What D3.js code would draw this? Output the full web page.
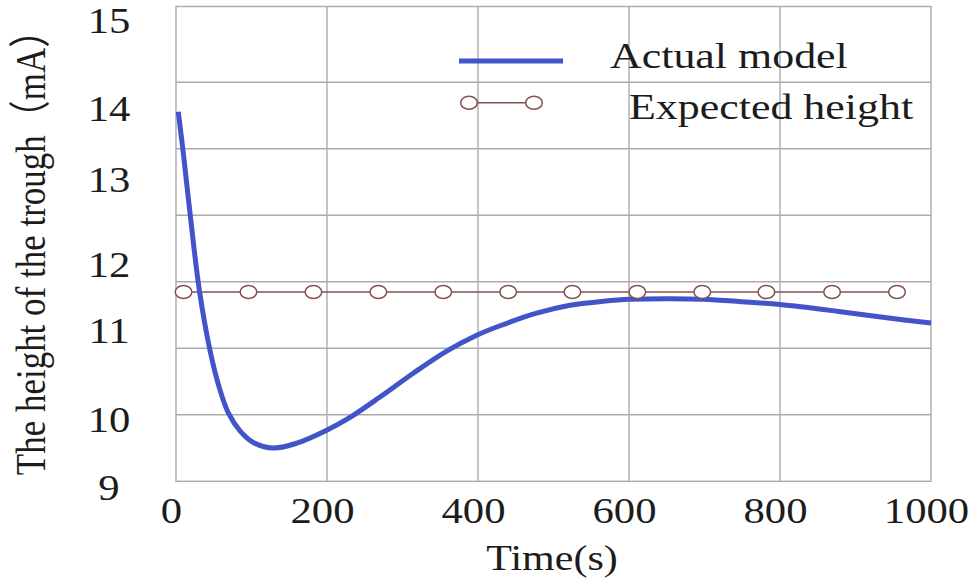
<!DOCTYPE html>
<html>
<head>
<meta charset="utf-8">
<script src="https://cdn.jsdelivr.net/npm/d3@7"></script>
<style>
  html, body { margin: 0; padding: 0; background: #ffffff; }
  svg { display: block; }
  text { font-family: 'Liberation Serif', 'Times New Roman', 'Noto Sans CJK SC', serif; fill: #1c1c1c; }
</style>
</head>
<body>
<svg id="chart" width="973" height="580"></svg>
<script>
// ---- data -------------------------------------------------------------
const xTicks = [0, 200, 400, 600, 800, 1000];          // time (s)
const yTicks = [9, 10, 11, 12, 13, 14, 15];            // trough height (mA)

// Actual model response: time (s) -> trough height (mA)
const modelTime   = [3, 9.7, 19.5, 30.9, 45, 57.2, 69.3, 84.8, 102.4, 128.9, 159.9, 199.6, 230.5, 270.2,
                     314.3, 358.5, 398.3, 429.1, 477.7, 521.9, 566, 601.3, 654.3, 698.4, 742.6, 800, 875.1, 941.3, 1000];
const modelHeight = [13.97, 13.38, 12.54, 11.63, 10.79, 10.37, 10.08, 9.84, 9.67, 9.59, 9.66, 9.85, 10.03, 10.26,
                     10.53, 10.78, 10.96, 11.09, 11.28, 11.40, 11.46, 11.49, 11.50, 11.49, 11.46, 11.41, 11.31, 11.21, 11.13];

// Expected (target) height, sampled as markers
const expectedTime   = [10, 96, 182, 268, 354, 440, 525, 611, 697, 782, 869, 955];
const expectedHeight = [11.6, 11.6, 11.6, 11.6, 11.6, 11.6, 11.6, 11.6, 11.6, 11.6, 11.6, 11.6];

const seriesNames = ["Actual model", "Expected height"];
const xTitle = "Time(s)";
const yTitle = "The height of the trough（mA）";

// ---- layout -----------------------------------------------------------
const plot = { left: 176, right: 931, top: 6.5, bottom: 481.3 };
const yLabelRange = [488.3, 420, 331.7, 265.6, 180, 109.7, 21.7];
const gridRows = 6, gridTop = 82.3;
const blue = "#4154c8", brown = "#86504f", gridColor = "#ababab";
const fontPx = 35;

const svg = d3.select("#chart");

const x = d3.scaleLinear().domain([0, 1000]).range([plot.left, plot.right]);
const y = d3.scaleLinear().domain(yTicks).range(yLabelRange);
const gridY = d3.scaleLinear().domain([0, gridRows]).range([plot.bottom, gridTop]);

// ---- grid & frame -----------------------------------------------------
const grid = svg.append("g").attr("stroke", gridColor).attr("stroke-width", 1.4);
grid.selectAll("line.h").data(d3.range(1, gridRows + 1)).join("line")
  .attr("class", "h")
  .attr("x1", plot.left).attr("x2", plot.right)
  .attr("y1", d => gridY(d)).attr("y2", d => gridY(d));
grid.selectAll("line.v").data(xTicks.slice(1, -1)).join("line")
  .attr("class", "v")
  .attr("x1", d => x(d)).attr("x2", d => x(d))
  .attr("y1", plot.top).attr("y2", plot.bottom);
grid.append("rect")
  .attr("x", plot.left).attr("y", plot.top)
  .attr("width", plot.right - plot.left).attr("height", plot.bottom - plot.top)
  .attr("fill", "none");

// ---- axes -------------------------------------------------------------
const xAxis = svg.append("g")
  .attr("transform", `translate(0,${plot.bottom})`)
  .call(d3.axisBottom(x).tickValues(xTicks).tickSize(0).tickFormat(d3.format("d")));
xAxis.select(".domain").remove();
xAxis.selectAll("text")
  .attr("y", null).attr("dy", null)
  .attr("font-size", fontPx)
  .attr("text-anchor", "middle")
  .attr("fill", "#1c1c1c")
  .attr("transform", "translate(-5,41.7) scale(1.22,1)");

const yAxis = svg.append("g")
  .attr("transform", `translate(${plot.left},0)`)
  .call(d3.axisLeft(y).tickValues(yTicks).tickSize(0).tickFormat(d3.format("d")));
yAxis.select(".domain").remove();
yAxis.selectAll("text")
  .attr("x", null)
  .attr("font-size", fontPx)
  .attr("text-anchor", "middle")
  .attr("fill", "#1c1c1c")
  .attr("transform", `translate(${109 - plot.left},0) scale(1.22,1)`);

svg.append("text")
  .attr("font-size", fontPx)
  .attr("text-anchor", "middle")
  .attr("transform", "translate(552,570) scale(1.2,1)")
  .text(xTitle);

svg.append("text")
  .attr("font-size", fontPx)
  .attr("text-anchor", "middle")
  .attr("transform", "translate(45,244) scale(1.2,1) rotate(-90)")
  .text(yTitle);

// ---- series -----------------------------------------------------------
const expected = expectedTime.map((t, i) => ({ t, v: expectedHeight[i] }));
const model = modelTime.map((t, i) => ({ t, v: modelHeight[i] }));

svg.append("path")
  .datum(expected)
  .attr("fill", "none").attr("stroke", brown).attr("stroke-width", 1.6)
  .attr("d", d3.line().x(d => x(d.t)).y(d => y(d.v)));

svg.append("path")
  .datum(model)
  .attr("fill", "none").attr("stroke", blue).attr("stroke-width", 5)
  .attr("stroke-linejoin", "round")
  .attr("d", d3.line().x(d => x(d.t)).y(d => y(d.v)).curve(d3.curveCatmullRom.alpha(0.5)));

svg.selectAll("ellipse.exp").data(expected).join("ellipse")
  .attr("class", "exp")
  .attr("cx", d => x(d.t)).attr("cy", d => y(d.v))
  .attr("rx", 8.3).attr("ry", 6.5)
  .attr("fill", "#ffffff").attr("stroke", brown).attr("stroke-width", 1.5);

// ---- legend -----------------------------------------------------------
const legend = svg.append("g");
legend.append("line")
  .attr("x1", 459).attr("x2", 563).attr("y1", 61).attr("y2", 61)
  .attr("stroke", blue).attr("stroke-width", 5);
legend.append("text")
  .attr("font-size", fontPx)
  .attr("transform", "translate(610,68.3) scale(1.255,1)")
  .text(seriesNames[0]);

legend.append("line")
  .attr("x1", 469).attr("x2", 534).attr("y1", 102.7).attr("y2", 102.7)
  .attr("stroke", brown).attr("stroke-width", 1.6);
legend.selectAll("ellipse").data([469, 534]).join("ellipse")
  .attr("cx", d => d).attr("cy", 102.7)
  .attr("rx", 8.3).attr("ry", 6.5)
  .attr("fill", "#ffffff").attr("stroke", brown).attr("stroke-width", 1.5);
legend.append("text")
  .attr("font-size", fontPx)
  .attr("transform", "translate(629,119.3) scale(1.255,1)")
  .text(seriesNames[1]);
</script>
</body>
</html>
